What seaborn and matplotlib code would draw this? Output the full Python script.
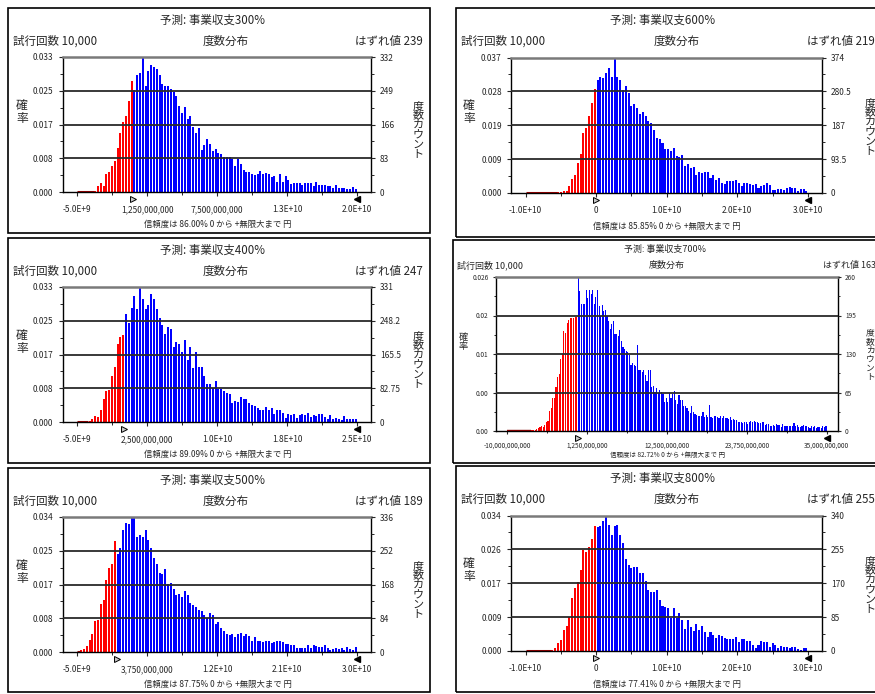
# Crystal Ball style forecast histograms (事業収支 300% .. 800%)
import numpy as np
import pandas as pd
import matplotlib
matplotlib.use("Agg")
import matplotlib.pyplot as plt
import matplotlib.transforms as mtransforms
from matplotlib.patches import Rectangle
from matplotlib.ticker import FixedLocator
import seaborn as sns

# -------------------------------
# 1. Data
# -------------------------------
FORECASTS = ["300%", "400%", "500%", "600%", "700%", "800%"]
TRIALS = "10,000"
OUTLIERS = [239, 247, 189, 219, 163, 255]
CERTAINTY = ["86.00%", "89.09%", "87.75%", "85.85%", "82.72%", "77.41%"]

X_RANGES = [(-5e9, 2e10), (-5e9, 2.5e10), (-5e9, 3e10),
            (-1e10, 3e10), (-1e10, 3.5e10), (-1e10, 3e10)]

X_TICK_LABELS = [
    ["-5.0E+9", "1,250,000,000", "7,500,000,000", "1.3E+10", "2.0E+10"],
    ["-5.0E+9", "2,500,000,000", "1.0E+10", "1.8E+10", "2.5E+10"],
    ["-5.0E+9", "3,750,000,000", "1.2E+10", "2.1E+10", "3.0E+10"],
    ["-1.0E+10", "0", "1.0E+10", "2.0E+10", "3.0E+10"],
    ["-10,000,000,000", "1,250,000,000", "12,500,000,000", "23,750,000,000", "35,000,000,000"],
    ["-1.0E+10", "0", "1.0E+10", "2.0E+10", "3.0E+10"],
]

PROB_LABELS = [
    ["0.000", "0.008", "0.017", "0.025", "0.033"],
    ["0.000", "0.008", "0.017", "0.025", "0.033"],
    ["0.000", "0.008", "0.017", "0.025", "0.034"],
    ["0.000", "0.009", "0.019", "0.028", "0.037"],
    ["0.00", "0.00", "0.01", "0.02", "0.026"],
    ["0.000", "0.009", "0.017", "0.026", "0.034"],
]

COUNT_LABELS = [
    ["0", "83", "166", "249", "332"],
    ["0", "82.75", "165.5", "248.2", "331"],
    ["0", "84", "168", "252", "336"],
    ["0", "93.5", "187", "280.5", "374"],
    ["0", "65", "130", "195", "260"],
    ["0", "85", "170", "255", "340"],
]
Y_MAX = [332, 331, 336, 374, 260, 340]

# frequency counts per bin, from the left end of the display range
COUNTS_300 = [0, 0, 0, 0, 0, 0, 3, 14, 21, 15, 44, 49, 63, 77, 107, 146, 173, 186, 225, 273,
              250, 288, 293, 332, 260, 297, 313, 308, 303, 288,
              266, 261, 261, 253, 245, 235, 211, 194, 208, 180,
              186, 159, 146, 158, 103, 116, 130, 117, 101, 106,
              95, 94, 86, 85, 86, 81, 65, 80, 69, 54,
              50, 48, 44, 42, 44, 52, 44, 46, 44, 36,
              39, 25, 44, 25, 39, 29, 19, 21, 22, 21,
              17, 23, 21, 21, 15, 25, 17, 17, 17, 14,
              15, 11, 17, 11, 10, 11, 8, 7, 13, 7]

COUNTS_400 = [0, 0, 0, 0, 2, 7, 15, 12, 30, 57, 76, 79, 112, 135, 191, 209, 213,
              264, 243, 280, 308, 276, 331, 301, 278, 288, 315,
              302, 278, 254, 237, 215, 234, 229, 185, 195, 192,
              172, 200, 151, 185, 132, 171, 135, 135, 114, 92,
              92, 84, 100, 82, 82, 75, 71, 69, 47, 51,
              49, 61, 57, 57, 47, 41, 39, 35, 30, 30,
              37, 29, 34, 20, 30, 29, 22, 11, 20, 18,
              20, 11, 18, 20, 18, 22, 12, 18, 15, 20,
              20, 12, 8, 16, 8, 11, 7, 4, 15, 8,
              7, 7, 8]

COUNTS_500 = [0, 5, 8, 14, 29, 44, 77, 79, 119, 130, 178, 210, 220, 276,
              245, 260, 304, 321, 318, 336, 333, 286, 291, 286,
              304, 279, 260, 235, 218, 197, 195, 206, 170, 172,
              158, 143, 144, 136, 153, 143, 122, 118, 111, 105,
              102, 92, 84, 97, 91, 69, 74, 60, 52, 46,
              42, 46, 38, 46, 48, 40, 44, 40, 27, 38,
              28, 28, 24, 27, 28, 23, 25, 27, 27, 24,
              21, 21, 18, 18, 11, 11, 11, 11, 17, 11,
              17, 14, 13, 13, 18, 10, 6, 8, 11, 8,
              11, 6, 13, 7, 6, 13]

COUNTS_600 = [0, 0, 0, 0, 0, 0, 0, 0, 0, 0, 0,
              3, 4, 6, 6, 19, 39, 50, 84, 108, 166, 180, 212, 248, 288,
              313, 319, 317, 330, 345, 320, 374, 321, 311, 283,
              296, 276, 240, 246, 234, 217, 223, 213, 199, 192,
              175, 152, 149, 137, 121, 121, 117, 124, 101, 98,
              105, 74, 79, 70, 72, 50, 59, 56, 59, 59,
              42, 50, 35, 42, 28, 25, 33, 33, 33, 36,
              28, 19, 28, 28, 25, 22, 26, 14, 18, 22,
              28, 21, 7, 8, 10, 12, 7, 14, 16, 14,
              14, 6, 11, 11, 5]

COUNTS_700 = [0, 0, 0, 0, 0, 0, 0, 0, 0, 0, 0, 0, 0, 0, 0,
              1, 2, 2, 3, 5, 6, 8, 6, 10, 15, 17, 33, 39, 55, 56,
              75, 91, 97, 122, 130, 169, 166, 182, 188, 190, 190, 190, 192, 192,
              260, 237, 215, 215, 215, 238, 225, 238, 231, 238,
              215, 227, 238, 211, 194, 213, 203, 204, 194, 186,
              173, 181, 186, 163, 163, 161, 170, 152, 141, 139,
              135, 133, 128, 112, 115, 112, 109, 146, 103, 103,
              99, 103, 95, 84, 103, 103, 75, 76, 66, 73,
              65, 69, 66, 62, 49, 55, 49, 65, 56, 62,
              67, 52, 46, 60, 53, 52, 42, 43, 39, 33,
              31, 43, 32, 29, 27, 26, 26, 26, 32, 23,
              27, 23, 44, 23, 22, 26, 26, 23, 22, 26,
              22, 25, 22, 22, 21, 23, 19, 21, 19, 18,
              15, 15, 15, 14, 15, 16, 12, 15, 17, 15,
              17, 15, 15, 14, 14, 16, 15, 10, 12, 12,
              9, 8, 10, 9, 12, 10, 10, 6, 12, 9,
              8, 9, 8, 9, 9, 14, 9, 10, 6, 6,
              8, 10, 8, 9, 6, 5, 8, 6, 8, 5,
              6, 6, 5, 8, 6, 9]

COUNTS_800 = [0, 0, 0, 0, 0, 0, 0, 0, 0,
              3, 8, 20, 28, 52, 63, 85, 133, 157, 173, 202, 253, 249, 261, 281, 313,
              311, 313, 325, 340, 315, 292, 313, 315, 292, 272,
              232, 215, 208, 212, 212, 196, 196, 176, 153, 147,
              147, 152, 127, 114, 110, 108, 84, 108, 82, 95,
              79, 55, 79, 59, 50, 69, 53, 63, 48, 36,
              48, 39, 33, 39, 38, 32, 31, 29, 29, 36,
              23, 29, 31, 25, 25, 15, 8, 15, 25, 22,
              22, 9, 20, 15, 8, 12, 10, 10, 8, 9,
              9, 5, 3, 7, 7]

ALL_COUNTS = [COUNTS_300, COUNTS_400, COUNTS_500, COUNTS_600, COUNTS_700, COUNTS_800]

# -------------------------------
# 2. Layout (pixels, relative to each panel frame)
# -------------------------------
LEFT = dict(ax=(55, 49, 363, 184), title=(205, 12), header_y=33.5,
            header_left=5, header_center=218, header_right=(415, "right"),
            ylab_l=(14, 104), ylab_r=(410, 122), footer=(210, 216.5),
            xpad=0.05, scale=1.0)
RIGHT = dict(ax=(55.5, 49.5, 366, 185), title=(207, 12), header_y=33,
             header_left=5, header_center=221, header_right=(351, "left"),
             ylab_l=(13, 104), ylab_r=(414, 119), footer=(211, 218.5),
             xpad=0.05, scale=1.0)
SMALL = dict(ax=(43, 37, 385, 191), title=(212, 9), header_y=25,
             header_left=4, header_center=214, header_right=(370, "left"),
             ylab_l=(10, 102), ylab_r=(417, 115), footer=(215, 215),
             xpad=0.035, scale=0.78)

FRAMES = [(8, 8, 430, 233), (8, 238, 430, 463), (8, 468, 430, 692),
          (456, 8, 890, 237), (453, 240, 890, 463), (456, 466, 890, 692)]
LAYOUTS = [LEFT, LEFT, LEFT, RIGHT, SMALL, RIGHT]

# -------------------------------
# 3. Figure
# -------------------------------
sns.set_style("white")
plt.rcParams["font.family"] = ["Noto Sans CJK JP", "DejaVu Sans"]

W, H = 875, 694
fig = plt.figure(figsize=(W / 100, H / 100), dpi=100)


def fxy(x, y):
    return x / W, 1 - y / H


def draw_panel(i):
    lay = LAYOUTS[i]
    s = lay["scale"]
    f0x, f0y, f1x, f1y = FRAMES[i]
    counts = np.array(ALL_COUNTS[i], dtype=float)
    lo, hi = X_RANGES[i]
    ymax = Y_MAX[i]

    fig.add_artist(Rectangle(fxy(f0x, f1y), (f1x - f0x) / W, (f1y - f0y) / H,
                             transform=fig.transFigure, fill=False,
                             edgecolor="black", linewidth=1.2))

    a0x, a0y, a1x, a1y = (f0x + lay["ax"][0], f0y + lay["ax"][1],
                          f0x + lay["ax"][2], f0y + lay["ax"][3])
    ax = fig.add_axes([a0x / W, 1 - a1y / H, (a1x - a0x) / W, (a1y - a0y) / H])

    nbins = len(counts)
    edges = np.linspace(lo, hi, nbins + 1)
    centers = (edges[:-1] + edges[1:]) / 2
    df = pd.DataFrame({
        "value": centers,
        "count": counts,
        "side": np.where(centers < 0, "out", "in"),
    })
    sns.histplot(data=df, x="value", weights="count", bins=nbins,
                 binrange=(lo, hi), hue="side", hue_order=["out", "in"],
                 palette={"out": "#ff0000", "in": "#0000ff"},
                 shrink=0.72, alpha=1, linewidth=0, legend=False, ax=ax)

    # dark red baseline over the empty left tail
    first = int(np.argmax(counts > 0))
    if first > 0:
        ax.plot([lo, edges[first]], [0, 0], color="#800000", lw=2.2 * s,
                solid_capstyle="butt", zorder=5)

    pad = lay["xpad"] * (hi - lo)
    ax.set_xlim(lo - pad, hi + pad)
    ax.set_ylim(0, ymax)
    ax.set_xlabel("")
    ax.set_ylabel("")

    yt = np.linspace(0, ymax, 5)
    for v in yt[1:-1]:
        ax.axhline(v, color="#2a2a2a", lw=1.3, zorder=4)

    xt = np.linspace(lo, hi, 5)
    ax.set_xticks(xt, labels=X_TICK_LABELS[i])
    ax.xaxis.set_minor_locator(FixedLocator((xt[:-1] + xt[1:]) / 2))
    ax.set_yticks(yt, labels=PROB_LABELS[i])
    ax.yaxis.set_minor_locator(FixedLocator((yt[:-1] + yt[1:]) / 2))
    ax.tick_params(axis="x", which="major", direction="out", length=3.2 * s,
                   width=0.8, labelsize=6 * s, pad=6.5 * s, bottom=True)
    ax.tick_params(axis="x", which="minor", direction="out", length=2 * s,
                   width=0.7, bottom=True)
    ax.tick_params(axis="y", which="major", direction="out", length=3 * s,
                   width=0.8, labelsize=6 * s, pad=4 * s, left=True)
    ax.tick_params(axis="y", which="minor", direction="out", length=2 * s,
                   width=0.7, left=True)

    for side in ["left", "right", "bottom"]:
        ax.spines[side].set_color("black")
        ax.spines[side].set_linewidth(1.0)
    ax.spines["top"].set_color("#7a7a7a")
    ax.spines["top"].set_linewidth(1.8)

    ax2 = ax.twinx()
    ax2.set_ylim(0, ymax)
    ax2.set_yticks(yt, labels=COUNT_LABELS[i])
    ax2.yaxis.set_minor_locator(FixedLocator((yt[:-1] + yt[1:]) / 2))
    ax2.tick_params(axis="y", which="major", direction="out", length=3 * s,
                    width=0.8, labelsize=6 * s, pad=3.5 * s, right=True)
    ax2.tick_params(axis="y", which="minor", direction="out", length=2 * s,
                    width=0.7, right=True)
    for sp in ax2.spines.values():
        sp.set_visible(False)

    # certainty grabbers under the axis
    trans = mtransforms.blended_transform_factory(ax.transData, ax.transAxes)
    yoff = -6.5 / (a1y - a0y)
    ax.plot([0], [yoff], marker=">", ms=5 * s, mfc="#c8c8c8", mec="black",
            mew=0.7, transform=trans, clip_on=False)
    ax.plot([hi], [yoff], marker="<", ms=5 * s, mfc="black", mec="black",
            transform=trans, clip_on=False)

    def put(x, y, text, size, ha="center", **kw):
        fig.text(*fxy(f0x + x, f0y + y), text, ha=ha, va="center",
                 fontsize=size * s, **kw)

    put(*lay["title"], f"予測: 事業収支{FORECASTS[i]}", 8.3)
    put(lay["header_left"], lay["header_y"], f"試行回数 {TRIALS}", 8.3, ha="left")
    put(lay["header_center"], lay["header_y"], "度数分布", 8.3)
    rx, rha = lay["header_right"]
    put(rx, lay["header_y"], f"はずれ値 {OUTLIERS[i]}", 8.3, ha=rha)
    put(*lay["ylab_l"], "\n".join("確率"), 8.5, linespacing=1.0)
    put(*lay["ylab_r"], "\n".join("度数カウント"), 8, linespacing=0.95)
    put(*lay["footer"], f"信頼度は {CERTAINTY[i]} 0 から +無限大まで 円", 6)


for k in range(6):
    draw_panel(k)

fig.savefig("out.png", dpi=100)
